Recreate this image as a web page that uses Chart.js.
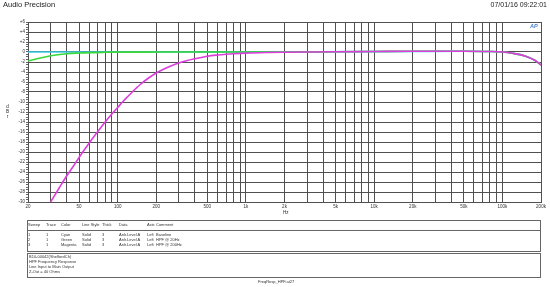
<!DOCTYPE html>
<html>
<head>
<meta charset="utf-8">
<script src="https://cdn.jsdelivr.net/npm/chart.js@4/dist/chart.umd.min.js"></script>
<style>
  body { margin: 0; background: #fff; }
  #wrap { position: relative; width: 550px; height: 287px; overflow: hidden; font-family: "Liberation Sans", Arial, sans-serif; color: #222; }
  #c { position: absolute; left: 0; top: 0; }
  .t { position: absolute; white-space: nowrap; line-height: 1; }
  .box { position: absolute; border: 1px solid #666; box-sizing: border-box; }
  .sm { font-size: 4px; color: #333; }
</style>
</head>
<body>
<div id="wrap">
  <canvas id="c" width="550" height="287"></canvas>
  <div class="t" style="left:3px;top:1px;font-size:7.5px;">Audio Precision</div>
  <div class="t" style="right:3px;top:1px;font-size:7px;">07/01/16 09:22:01</div>
  <div class="t" style="left:530px;top:24px;font-size:5.5px;font-style:italic;font-weight:bold;color:#4a7fd0;">AP</div>
  <div class="t" style="left:283px;top:211px;font-size:4.5px;">Hz</div>
  <div class="t" style="left:6px;top:104px;font-size:4.5px;text-align:center;line-height:5px;">d<br>B<br>r</div>

  <div class="box" style="left:27px;top:220px;width:514px;height:32px;"></div>
  <div class="box" style="left:27px;top:230px;width:514px;height:1px;border-width:1px 0 0 0;"></div>
  <div class="box" style="left:27px;top:253px;width:514px;height:25px;"></div>
  <div id="tbl"></div>
  <div class="t sm" style="left:29px;top:255px;">B10-00042(ShelfordCh)</div>
  <div class="t sm" style="left:29px;top:260px;">HPF Frequency Response</div>
  <div class="t sm" style="left:29px;top:265px;">Line Input to Main Output</div>
  <div class="t sm" style="left:29px;top:270px;">Z-Out = 40 Ohms</div>
  <div class="t sm" style="left:258px;top:280px;">FreqResp_HPF.at27</div>
</div>
<script>
// sweep data (Hz / dB)
var cyanFreq = [20, 1000, 20000, 50000, 80000, 100000, 120000, 150000, 180000, 200000];
var cyanDb = [0, 0, 0.1, 0.15, 0.1, 0, -0.25, -0.8, -1.7, -2.6];

var greenFreq = [20, 25, 30, 40, 50, 60, 80, 100, 150, 200, 500, 1000, 2000, 5000, 10000, 20000, 50000, 80000, 100000, 120000, 150000, 180000, 200000];
var greenDb = [-1.8, -1.2, -0.75, -0.35, -0.2, -0.12, -0.06, -0.03, -0.02, -0.01, 0, 0, 0, 0.05, 0.1, 0.15, 0.15, 0.1, 0, -0.25, -0.8, -1.7, -2.6];

var magentaFreq = [30, 35, 40, 45, 50, 60, 70, 80, 90, 100, 110, 120, 130, 140, 150, 170, 200, 230, 260, 300, 350, 400, 450, 500,
    600, 700, 800, 1000, 1500, 2000, 3000, 5000, 10000, 20000, 50000, 80000, 100000, 120000, 150000, 180000, 200000];
var magentaDb = [-30, -27.2, -24.8, -22.9, -21.1, -18.2, -15.9, -14.0, -12.4, -11.1, -9.9, -8.9, -8.0, -7.2, -6.5, -5.4, -4.2, -3.4, -2.8, -2.2, -1.7, -1.35, -1.1, -0.85,
    -0.6, -0.45, -0.35, -0.22, -0.1, -0.05, 0, 0.05, 0.1, 0.15, 0.15, 0.1, 0, -0.25, -0.8, -1.7, -2.6];

// axis labels
var xTickLabels = {20: '20', 50: '50', 100: '100', 200: '200', 500: '500', 1000: '1k', 2000: '2k', 5000: '5k',
    10000: '10k', 20000: '20k', 50000: '50k', 100000: '100k', 200000: '200k'};
var yTickValues = [6, 4, 2, 0, -2, -4, -6, -8, -10, -12, -14, -16, -18, -20, -22, -24, -26, -28, -30];

// legend table rows
var tableHead = ['Sweep', 'Trace', 'Color', 'Line Style', 'Thick', 'Data', 'Axis', 'Comment'];
var tableRows = [
    ['1', '1', 'Cyan', 'Solid', '3', 'Anlr.Level A', 'Left', 'Baseline'],
    ['2', '1', 'Green', 'Solid', '3', 'Anlr.Level A', 'Left', 'HPF @ 20Hz'],
    ['3', '1', 'Magenta', 'Solid', '3', 'Anlr.Level A', 'Left', 'HPF @ 200Hz']
];
var colX = [28, 46, 61, 82, 102, 119, 147, 156];

function pts(f, v) {
    var out = [];
    for (var i = 0; i < f.length; i++) {
        out.push({x: f[i], y: v[i]});
    }
    return out;
}

// build the legend table as plain text cells
var tbl = document.getElementById('tbl');
function cell(txt, x, y) {
    var d = document.createElement('div');
    d.className = 't sm';
    d.style.left = x + 'px';
    d.style.top = y + 'px';
    d.textContent = txt;
    tbl.appendChild(d);
}
tableHead.forEach(function(h, i) { cell(h, colX[i], 223); });
tableRows.forEach(function(r, j) {
    r.forEach(function(txt, i) { cell(txt, colX[i], 233 + j * 5); });
});

// grid lines at every 1..9 x 10^n between 20 Hz and 200 kHz
var xGrid = [];
for (var dec = 10; dec <= 100000; dec *= 10) {
    for (var m = 1; m <= 9; m++) {
        var v = m * dec;
        if (v >= 20 && v <= 200000) xGrid.push(v);
    }
}

var gridColor = '#505050';

var chart = new Chart(document.getElementById('c'), {
    type: 'line',
    data: {
        datasets: [
            {label: 'Baseline', data: pts(cyanFreq, cyanDb), borderColor: '#3ccbe6', order: 3},
            {label: 'HPF @ 20Hz', data: pts(greenFreq, greenDb), borderColor: '#3ad83a', order: 2},
            {label: 'HPF @ 200Hz', data: pts(magentaFreq, magentaDb), borderColor: '#dc3ddc', order: 1}
        ]
    },
    options: {
        responsive: false,
        animation: false,
        layout: {padding: {left: 0, top: 22, right: 9, bottom: 73}},
        elements: {
            point: {radius: 0},
            line: {borderWidth: 1.6, cubicInterpolationMode: 'monotone', fill: false}
        },
        plugins: {legend: {display: false}, tooltip: {enabled: false}},
        scales: {
            x: {
                type: 'logarithmic',
                min: 20,
                max: 200000,
                afterBuildTicks: function(s) {
                    s.ticks = xGrid.map(function(v) { return {value: v}; });
                },
                afterFit: function(s) { s.height = 12; },
                grid: {color: gridColor, lineWidth: 1, drawTicks: false},
                border: {color: gridColor, width: 1},
                ticks: {
                    autoSkip: false, maxRotation: 0, minRotation: 0, padding: 2,
                    color: '#333', font: {family: 'Liberation Sans', size: 4.5},
                    callback: function(value) { return xTickLabels[value] || ''; }
                }
            },
            y: {
                min: -30,
                max: 6,
                afterBuildTicks: function(s) {
                    var t = [];
                    for (var v = -30; v <= 6; v += 0.5) t.push({value: v});
                    s.ticks = t;
                },
                afterFit: function(s) { s.width = 28; },
                grid: {
                    color: function(ctx) {
                        return yTickValues.indexOf(ctx.tick.value) >= 0 ? gridColor : 'rgba(0,0,0,0)';
                    },
                    tickColor: '#666',
                    tickLength: 2,
                    lineWidth: 1
                },
                border: {color: gridColor, width: 1},
                ticks: {
                    autoSkip: false, padding: 1,
                    color: '#333', font: {family: 'Liberation Sans', size: 4.5},
                    callback: function(value) {
                        if (yTickValues.indexOf(value) < 0) return '';
                        return value > 0 ? '+' + value : '' + value;
                    }
                }
            }
        }
    }
});
</script>
</body>
</html>
